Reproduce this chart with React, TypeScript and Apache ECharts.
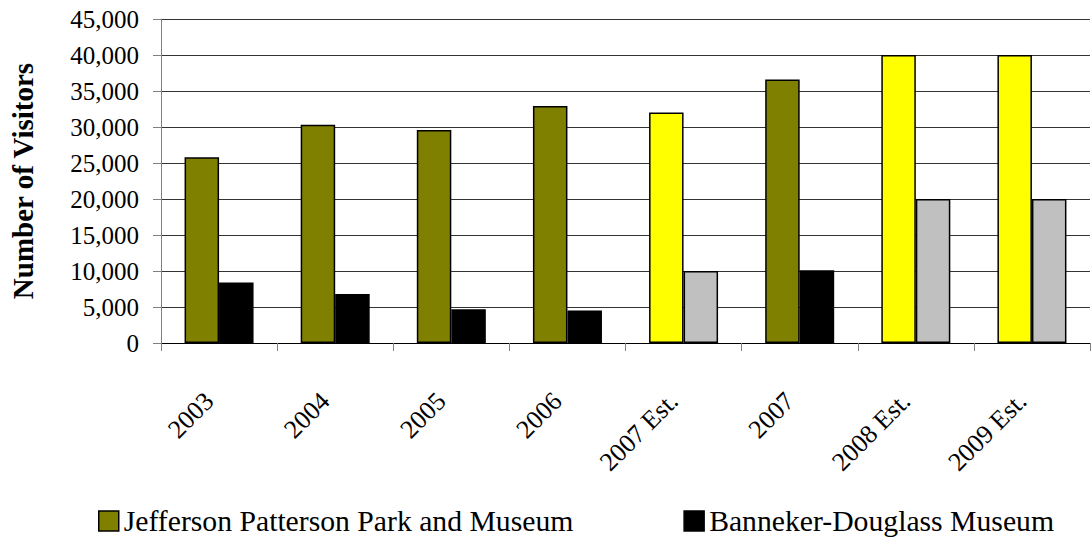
import React, { useEffect, useRef } from "react";
import * as echarts from "echarts";

const categories = ["2003", "2004", "2005", "2006", "2007 Est.", "2007", "2008 Est.", "2009 Est."];
const jefferson = [25800, 30300, 29600, 32900, 32000, 36600, 40000, 40000];
const banneker = [8400, 6800, 4700, 4500, 10000, 10100, 20000, 20000];
const isEstimate = [false, false, false, false, true, false, true, true];
const yTicks = [0, 5000, 10000, 15000, 20000, 25000, 30000, 35000, 40000, 45000];

const FONT = "Liberation Serif";

export default function App() {
  const ref = useRef<HTMLDivElement>(null);
  useEffect(() => {
    if (!ref.current) return;
    const chart = echarts.init(ref.current, undefined, { renderer: "svg" });
    const barBorder = { borderColor: "#000", borderWidth: 1.5 };
    chart.setOption({
      animation: false,
      backgroundColor: "#fff",
      grid: { left: 161, right: 1, top: 19, bottom: 196, containLabel: false },
      legend: {
        left: 98,
        top: 506,
        padding: 0,
        itemGap: 110,
        itemWidth: 20,
        itemHeight: 20,
        icon: "rect",
        textStyle: { fontFamily: FONT, fontSize: 29.7, color: "#000" },
        data: [
          { name: "Jefferson Patterson Park and Museum", itemStyle: { color: "#808000", ...barBorder } },
          { name: "Banneker-Douglass Museum", itemStyle: { color: "#000", ...barBorder } },
        ],
      },
      xAxis: {
        type: "category",
        data: categories,
        axisLine: { show: true, lineStyle: { color: "#000", width: 1 } },
        axisTick: { show: true, length: 8, lineStyle: { color: "#808080" }, alignWithLabel: false },
        axisLabel: {
          rotate: 45,
          margin: 44,
          interval: 0,
          padding: [0, 14, 42, 0],
          fontFamily: FONT,
          fontSize: 26,
          color: "#000",
        },
        splitLine: { show: false },
      },
      yAxis: {
        type: "value",
        min: yTicks[0],
        max: yTicks[yTicks.length - 1],
        interval: 5000,
        name: "Number of Visitors",
        nameLocation: "middle",
        nameRotate: 90,
        nameGap: 124,
        nameTextStyle: { fontFamily: FONT, fontSize: 29, fontWeight: "bold", color: "#000" },
        axisLine: { show: true, lineStyle: { color: "#808080", width: 1 } },
        axisTick: { show: true, length: 8, lineStyle: { color: "#808080" } },
        axisLabel: {
          margin: 22,
          fontFamily: FONT,
          fontSize: 25,
          color: "#000",
          formatter: (v: number) => v.toLocaleString("en-US"),
        },
        splitLine: { show: true, lineStyle: { color: "#333", width: 1 } },
      },
      series: [
        {
          name: "Jefferson Patterson Park and Museum",
          type: "bar",
          barWidth: 34.5,
          barGap: "0%",
          itemStyle: { color: "#808000", ...barBorder },
          data: jefferson.map((v, i) => ({
            value: v,
            itemStyle: { color: isEstimate[i] ? "#FFFF00" : "#808000" },
          })),
        },
        {
          name: "Banneker-Douglass Museum",
          type: "bar",
          barWidth: 34.5,
          barGap: "0%",
          itemStyle: { color: "#000", ...barBorder },
          data: banneker.map((v, i) => ({
            value: v,
            itemStyle: { color: isEstimate[i] ? "#C0C0C0" : "#000" },
          })),
        },
      ],
    });
    return () => chart.dispose();
  }, []);
  return (
    <div
      ref={ref}
      style={{ position: "fixed", left: 0, top: 0, width: 1091, height: 539, background: "#fff" }}
    />
  );
}
